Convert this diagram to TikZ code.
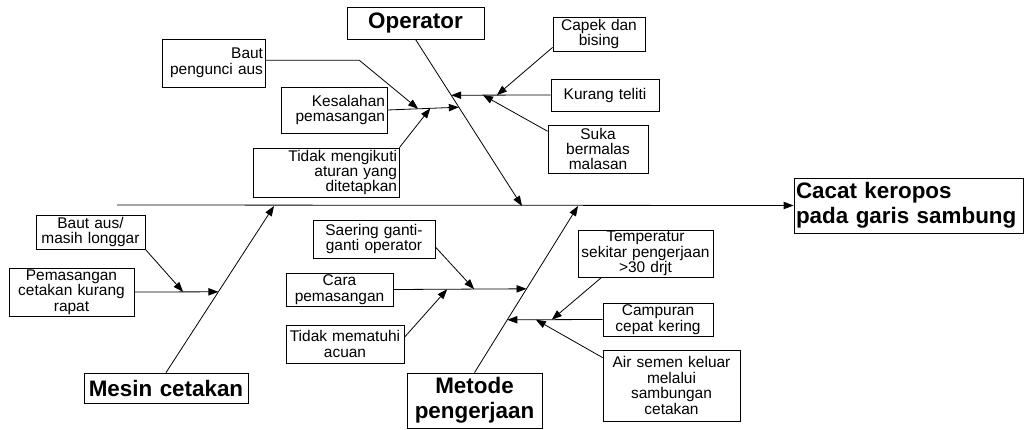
\documentclass[tikz,border=0pt]{standalone}
\usepackage{fontspec}
\setmainfont{Liberation Sans}
\usetikzlibrary{arrows.meta,calc}
\newcommand\mybox[8]{%
  \pgfmathsetmacro\myTW{(#5-#3)*0.75-3}%
  \pgfmathsetmacro\myW{(#5-#3)*0.75}%
  \pgfmathsetmacro\myH{(#6-#4)*0.75}%
  \node[#1, align=#7, text width=\myTW pt, minimum width=\myW pt, minimum height=\myH pt] (#2) at ({(#3+#5)/2},{(#4+#6)/2}) {#8};}
\begin{document}
\begin{tikzpicture}[x=0.75pt,y=-0.75pt, line width=0.6pt,
  box/.style={draw, inner ysep=0pt, inner xsep=1.5pt, font=\fontsize{11.6}{11.6}\selectfont},
  bigbox/.style={box, font=\bfseries\fontsize{16.8}{18.6}\selectfont},
  arr/.style={-{Triangle[length=7.5pt,width=5.5pt]}}]
\useasboundingbox (0,0) rectangle (1024,429);
% main boxes
\mybox{bigbox}{operator}{347}{7}{484}{39}{center}{Operator}
\mybox{bigbox}{effect}{794}{178}{1023}{233}{left}{Cacat keropos\\pada garis sambung}
\mybox{bigbox}{mesin}{84}{373}{248}{403}{center}{Mesin cetakan}
\mybox{bigbox}{metode}{407}{373}{542}{428}{center}{Metode\\pengerjaan}
% cause boxes
\mybox{box}{bautp}{162}{39}{265}{87}{right}{Baut\\pengunci aus}
\mybox{box}{kes}{281}{87}{387}{133}{right}{Kesalahan\\pemasangan}
\mybox{box}{tmk}{253}{148}{399}{197}{right}{Tidak mengikuti\\aturan yang\\ditetapkan}
\mybox{box}{capek}{553}{17}{645}{51}{center}{Capek dan\\bising}
\mybox{box}{kurang}{551}{79}{659}{111}{center}{Kurang teliti}
\mybox{box}{suka}{548}{125}{648}{173}{center}{Suka\\bermalas\\malasan}
\mybox{box}{bauta}{36}{215}{145}{249}{center}{Baut aus/\\masih longgar}
\mybox{box}{pem}{9}{268}{134}{316}{center}{Pemasangan\\cetakan kurang\\rapat}
\mybox{box}{saer}{313}{220}{435}{258}{center}{Saering ganti-\\ganti operator}
\mybox{box}{cara}{286}{273}{393}{306}{center}{Cara\\pemasangan}
\mybox{box}{tma}{286}{325}{404}{363}{center}{Tidak mematuhi\\acuan}
\mybox{box}{temp}{578}{230}{713}{277}{center}{Temperatur\\sekitar pengerjaan\\>30 drjt}
\mybox{box}{camp}{603}{303}{713}{336}{center}{Campuran\\cepat kering}
\mybox{box}{air}{603}{350}{740}{421}{center}{Air semen keluar\\melalui\\sambungan\\cetakan}
% spine
\coordinate (start) at (117,205);
\draw[arr] (start) -- (effect.west);
\coordinate (opT) at (522,206);
\coordinate (mesT) at (274,206);
\coordinate (metT) at (578,206);
\draw[arr] (operator.south) -- (opT);
\draw[arr] (mesin.north) -- (mesT);
\draw[arr] (metode.north) -- (metT);
% operator
\coordinate (o1) at ($(operator.south)!0.407!(opT)$);
\coordinate (o2) at ($(operator.south)!0.335!(opT)$);
\draw[arr] (kes.east) -- (o1);
\coordinate (k1) at ($(kes.east)!0.43!(o1)$);
\coordinate (k2) at ($(kes.east)!0.6!(o1)$);
\draw[arr] ([yshift=2pt]bautp.east) -- ++(94,0) -- (k1);
\draw[arr] (tmk.north east) -- (k2);
\draw[arr] (kurang.west) -- (o2);
\coordinate (c1) at ($(kurang.west)!0.54!(o2)$);
\coordinate (c2) at ($(kurang.west)!0.68!(o2)$);
\draw[arr] ([yshift=3pt]capek.south west) -- (c1);
\draw[arr] ([yshift=-5pt]suka.north west) -- (c2);
% mesin
\coordinate (m1) at ($(mesin.north)!0.485!(mesT)$);
\draw[arr] (pem.east) -- (m1);
\coordinate (p1) at ($(pem.east)!0.58!(m1)$);
\draw[arr] (bauta.south east) -- (p1);
% metode
\coordinate (t1) at ($(metode.north)!0.503!(metT)$);
\draw[arr] (cara.east) -- (t1);
\coordinate (r1) at ($(cara.east)!0.606!(t1)$);
\coordinate (r2) at ($(cara.east)!0.404!(t1)$);
\draw[arr] ([yshift=-6pt]saer.east) -- (r1);
\draw[arr] ([yshift=5pt]tma.east) -- (r2);
\coordinate (t2) at ($(metode.north)!0.317!(metT)$);
\draw[arr] (camp.west) -- (t2);
\coordinate (s1) at ($(camp.west)!0.533!(t2)$);
\coordinate (s2) at ($(camp.west)!0.70!(t2)$);
\draw[arr] ($(temp.south west)+(24,0)$) -- (s1);
\draw[arr] ([yshift=-6pt]air.north west) -- (s2);
\end{tikzpicture}
\end{document}
